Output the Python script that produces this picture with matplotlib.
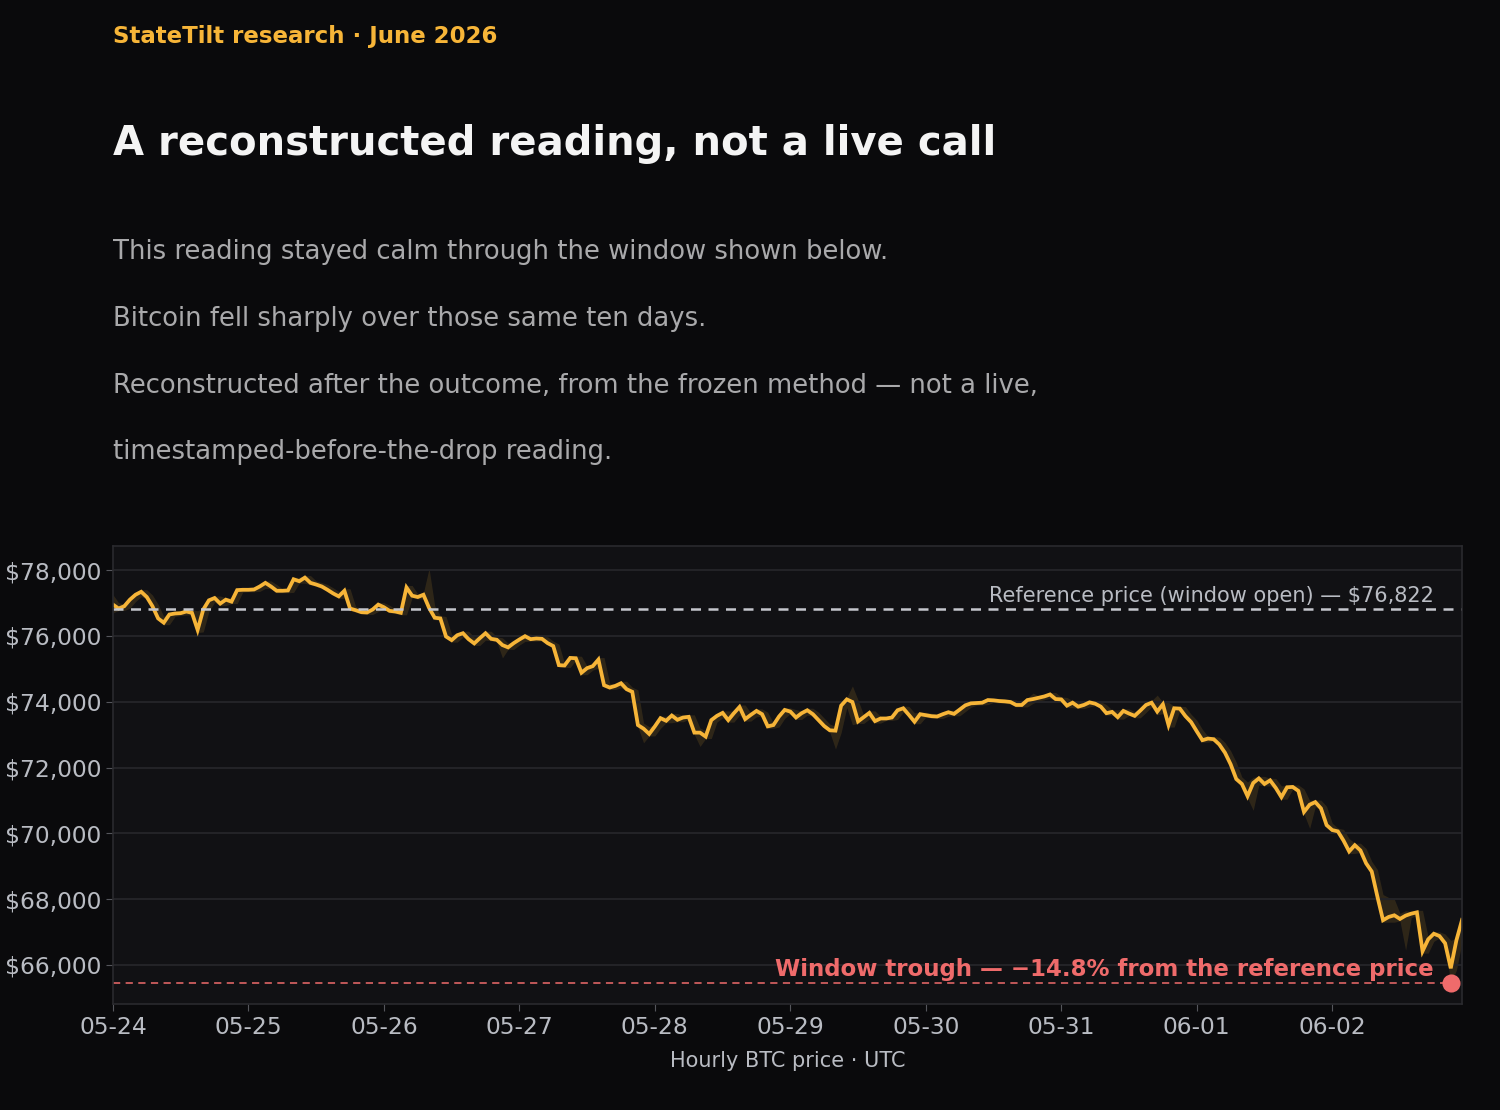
import matplotlib
matplotlib.use("Agg")
import matplotlib.pyplot as plt
import matplotlib.dates as mdates
import matplotlib.ticker as mticker
import numpy as np
import pandas as pd

# hourly closes, 05-24 00:00 UTC onwards
closes = [
    76950, 76830, 76900, 77100, 77250, 77340, 77180, 76900, 76530, 76400,
    76650, 76680, 76690, 76740, 76700, 76180, 76800, 77080, 77150, 76980,
    77100, 77040, 77390, 77400, 77400, 77410, 77500, 77610, 77500, 77370,
    77370, 77380, 77720, 77660, 77770, 77610, 77560, 77500, 77400, 77290,
    77200, 77370, 76830, 76780, 76720, 76710, 76800, 76950, 76870, 76760,
    76740, 76700, 77470, 77220, 77180, 77250, 76850, 76550, 76530, 75980,
    75870, 76020, 76080, 75900, 75770, 75930, 76080, 75910, 75880, 75720,
    75650, 75780, 75890, 75990, 75900, 75920, 75910, 75780, 75690, 75110,
    75100, 75330, 75320, 74880, 75020, 75080, 75280, 74500, 74430, 74480,
    74560, 74380, 74300, 73290, 73180, 73020, 73250, 73500, 73420, 73580,
    73450, 73520, 73540, 73060, 73060, 72940, 73440, 73570, 73660, 73440,
    73650, 73840, 73470, 73600, 73720, 73620, 73250, 73290, 73550, 73750,
    73700, 73520, 73650, 73740, 73620, 73440, 73260, 73130, 73120, 73880,
    74070, 73990, 73400, 73530, 73660, 73410, 73490, 73490, 73520, 73740,
    73800, 73600, 73390, 73620, 73590, 73560, 73550, 73620, 73680, 73630,
    73760, 73890, 73950, 73960, 73970, 74050, 74040, 74020, 74010, 73990,
    73900, 73900, 74050, 74080, 74120, 74160, 74220, 74080, 74070, 73880,
    73970, 73850, 73900, 73980, 73940, 73850, 73650, 73690, 73530, 73720,
    73640, 73570, 73730, 73900, 73970, 73700, 73920, 73290, 73800, 73790,
    73560, 73380, 73100, 72830, 72880, 72860, 72700, 72450, 72100, 71650,
    71500, 71130, 71530, 71670, 71500, 71610, 71380, 71100, 71400, 71410,
    71290, 70650, 70870, 70950, 70760, 70250, 70100, 70060, 69780, 69450,
    69640, 69480, 69090, 68840, 68080, 67360, 67460, 67510, 67400, 67500,
    67560, 67600, 66420, 66780, 66950, 66880, 66660, 65900, 66750, 67370,
]

# hours where the high/low wick pokes well past the closes
wick_hours = [0, 15, 56, 69, 94, 104, 128, 131, 163, 185, 202, 212, 226, 227, 229, 237]
wick_lows = [76700, 76100, 76900, 75330, 72750, 72640, 72560, 73300, 73950, 73600,
             70700, 70150, 67300, 67300, 66450, 65452]
wick_highs = [77250, 76750, 78050, 75750, 73350, 73200, 73250, 74480, 74260, 74200,
              71700, 71000, 68050, 68000, 67650, 66750]

ref_price = 76822
trough_price = 65452
trough_hour = 237

times = pd.date_range("2026-05-24 00:00", periods=len(closes), freq="h")
closes = np.array(closes, dtype=float)
opens = np.concatenate([[ref_price], closes[:-1]])
lows = np.minimum(opens, closes) - 60
highs = np.maximum(opens, closes) + 60
for h, lo, hi in zip(wick_hours, wick_lows, wick_highs):
    lows[h] = min(lows[h], lo)
    highs[h] = max(highs[h], hi)

BG = "#0a0a0c"
PANEL = "#111114"
GOLD = "#f7b538"
RED = "#ef6b6b"
GREY = "#a9a9ab"
TICK = "#b9bcc3"

fig = plt.figure(figsize=(15, 11.1), dpi=100, facecolor=BG)

fig.text(0.0753, 0.967, "StateTilt research · June 2026", color=GOLD,
         fontsize=16.5, fontweight="bold", va="center")
fig.text(0.0753, 0.870, "A reconstructed reading, not a live call", color="#f4f4f4",
         fontsize=28.9, fontweight="bold", va="center")
body = [
    "This reading stayed calm through the window shown below.",
    "Bitcoin fell sharply over those same ten days.",
    "Reconstructed after the outcome, from the frozen method — not a live,",
    "timestamped-before-the-drop reading.",
]
for i, line in enumerate(body):
    fig.text(0.0753, 0.773 - i * 0.0602, line, color=GREY, fontsize=18.6, va="center")

ax = fig.add_axes([0.0753, 0.0955, 0.8994, 0.4126])
ax.set_facecolor(PANEL)
for s in ax.spines.values():
    s.set_color("#2a2a2e")
    s.set_linewidth(1.2)

ax.fill_between(times, lows, highs, color=GOLD, alpha=0.13, linewidth=0)
ax.plot(times, closes, color=GOLD, lw=2.7, solid_joinstyle="miter")

ax.axhline(ref_price, color="#c4c6cc", lw=1.8, ls=(0, (4, 3)))
ax.text(times[-1] - pd.Timedelta(hours=5), ref_price + 90,
        "Reference price (window open) — $76,822", color=TICK, fontsize=15,
        ha="right", va="bottom")

ax.axhline(trough_price, color=RED, lw=1.3, ls=(0, (4, 3)), alpha=0.85)
ax.scatter([times[trough_hour]], [trough_price], s=170, color=RED, zorder=5, linewidths=0)
ax.text(times[trough_hour] - pd.Timedelta(hours=3), trough_price + 60,
        "Window trough — −14.8% from the reference price", color=RED,
        fontsize=16.5, fontweight="bold", ha="right", va="bottom")

ax.set_xlim(times[0], times[-1])
ax.set_ylim(64815, 78730)
ax.yaxis.set_major_locator(mticker.MultipleLocator(2000))
ax.yaxis.set_major_formatter(mticker.FuncFormatter(lambda v, p: f"${v:,.0f}"))
ax.xaxis.set_major_locator(mdates.DayLocator())
ax.xaxis.set_major_formatter(mdates.DateFormatter("%m-%d"))
ax.grid(axis="y", color="#232327", lw=1.5)
ax.tick_params(colors=TICK, labelsize=16.8, length=5, color="#55565c")
ax.set_xlabel("Hourly BTC price · UTC", color=TICK, fontsize=15, labelpad=9)

fig.savefig("out.png", dpi=100, facecolor=BG)
